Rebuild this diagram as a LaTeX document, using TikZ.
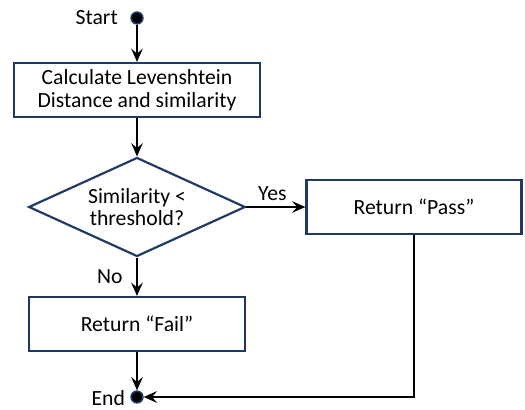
\documentclass[tikz,border=0pt]{standalone}
\usepackage{fontspec}
\setmainfont{Carlito}
\usetikzlibrary{shapes.geometric,arrows.meta,positioning}
\definecolor{boxblue}{HTML}{1F3864}

\begin{document}
\begin{tikzpicture}[x=0.6pt,y=-0.6pt,
    every node/.style={font=\fontsize{13}{13.5}\selectfont},
    process/.style={draw=boxblue,line width=1.3pt,fill=white,align=center,minimum height=32.4pt,inner sep=2pt},
    decision/.style={diamond,draw=boxblue,line width=1.3pt,fill=white,align=center,aspect=2.2,inner sep=0pt,minimum width=130pt,minimum height=59.4pt},
    terminal/.style={circle,draw=boxblue,fill=black,line width=1pt,minimum size=7pt,inner sep=0pt},
    flow/.style={line width=0.8pt,-{Stealth[length=8pt,width=7pt,inset=3pt]}}]
  \useasboundingbox (0,0) rectangle (525,410);
  % nodes
  \node[terminal] (start) at (137,18) {};
  \node[left=4pt of start] (starttxt) {Start};
  \node[process,minimum width=147.6pt] (calc) at (137,90) {Calculate Levenshtein\\Distance and similarity};
  \node[decision] (check) at (137,207) {Similarity <\\threshold?};
  \node[process,minimum width=129pt] (pass) at (414,207) {Return “Pass”};
  \node[process,minimum width=129.6pt] (fail) at (137,324) {Return “Fail”};
  \node[terminal] (end) at (137,397) {};
  \node[anchor=east,inner sep=1pt] (endtxt) at (127,398) {End};
  % connectors
  \draw[flow] (start) -- (calc);
  \draw[flow] (calc) -- (check);
  \draw[flow] (check) -- node[above,pos=0.44] (yes) {Yes} (pass);
  \draw[flow] (check) -- node[left=5pt] (no) {No} (fail);
  \draw[flow] (fail) -- (end);
  \draw[flow] (pass.south) |- (end);
\end{tikzpicture}
\end{document}
